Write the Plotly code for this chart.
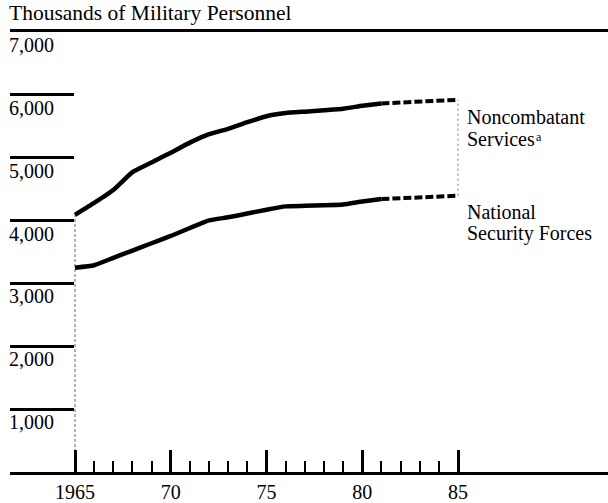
import plotly.graph_objects as go

# values in thousands of military personnel
years = list(range(1965, 1986))
noncombatant = [4090, 4280, 4485, 4770, 4925, 5080, 5240, 5375, 5460, 5565, 5660,
                5710, 5733, 5756, 5780, 5826, 5864, 5878, 5892, 5907, 5921]
national_security = [3250, 3290, 3407, 3523, 3639, 3755, 3882, 4002, 4052, 4112, 4173,
                     4226, 4234, 4242, 4256, 4303, 4342, 4355, 4368, 4381, 4395]
projection_from = 1981  # dashed part of the lines

y_ticks = [1000, 2000, 3000, 4000, 5000, 6000, 7000]
y_tick_labels = ["1,000", "2,000", "3,000", "4,000", "5,000", "6,000", "7,000"]
x_ticks = [1965, 1970, 1975, 1980, 1985]
x_tick_labels = ["1965", "70", "75", "80", "85"]

FONT = "Liberation Serif"
W, H = 608, 503
TOP, BOTTOM = 32, 26.5
Y_MAX = 7000


def split(vals):
    i = years.index(projection_from)
    return (years[:i + 1], vals[:i + 1]), (years[i:], vals[i:])


fig = go.Figure()

# thin dotted guides at start and end years
fig.add_trace(go.Scatter(x=[years[0], years[0]], y=[0, noncombatant[0]], mode="lines",
                         line=dict(color="#666", width=1, dash="3px,2px"), hoverinfo="skip"))
fig.add_trace(go.Scatter(x=[years[-1], years[-1]], y=[national_security[-1], noncombatant[-1]],
                         mode="lines", line=dict(color="#777", width=1, dash="2px,3px"),
                         hoverinfo="skip"))

for series in (noncombatant, national_security):
    (xs, ys), (xd, yd) = split(series)
    fig.add_trace(go.Scatter(x=xs, y=ys, mode="lines",
                             line=dict(color="black", width=4.5, shape="spline", smoothing=0.4)))
    fig.add_trace(go.Scatter(x=xd, y=yd, mode="lines",
                             line=dict(color="black", width=4, dash="8px,3px")))

# pixel helpers for text placement
plot_h = H - TOP - BOTTOM


def y_at(px):
    return (H - BOTTOM - px) / plot_h * Y_MAX


annotations = [
    dict(text="Thousands of Military Personnel", x=0, xref="paper", xanchor="left", xshift=-3,
         y=1, yref="paper", yanchor="middle", yshift=TOP - 13, showarrow=False,
         font=dict(family=FONT, size=21.5, color="black")),
]
for v, lab in zip(y_ticks, y_tick_labels):
    annotations.append(dict(text=lab, x=0, xref="paper", xanchor="left", xshift=-3,
                            y=v, yref="y", yanchor="middle", yshift=-13, showarrow=False,
                            font=dict(family=FONT, size=20, color="black")))

right_labels = [("Noncombatant", 118, 8, 20), ("Services", 140, 8, 20), ("a", 138.5, 77, 12),
                ("National", 214, 8, 20), ("Security Forces", 236, 8, 20)]
for txt, py, dx, size in right_labels:
    annotations.append(dict(text=txt, x=years[-1], xref="x", xanchor="left", xshift=dx,
                            y=y_at(py), yref="y", yanchor="middle", showarrow=False,
                            borderpad=0, font=dict(family=FONT, size=size, color="black")))

px_per_year = (458 - 75) / 20
x_left = 1965 - (75 - 10) / px_per_year
x_right = 1965 + (W - 75) / px_per_year

fig.update_layout(
    width=W, height=H,
    margin=dict(l=10, r=0, t=TOP, b=BOTTOM),
    plot_bgcolor="white", paper_bgcolor="white",
    showlegend=False,
    font=dict(family=FONT, size=21, color="black"),
    annotations=annotations,
    xaxis=dict(range=[x_left, x_right], showgrid=False, zeroline=False,
               showline=True, linewidth=3, linecolor="black", mirror=True,
               tickmode="array", tickvals=x_ticks, ticktext=x_tick_labels,
               ticks="inside", ticklen=22, tickwidth=2.5, tickcolor="black",
               tickfont=dict(family=FONT, size=20, color="black"),
               minor=dict(tickmode="array", tickvals=years, ticks="inside",
                          ticklen=11, tickwidth=2, tickcolor="black")),
    yaxis=dict(range=[0, Y_MAX], showgrid=False, zeroline=False, showline=False,
               tickmode="array", tickvals=y_ticks[:-1], ticks="inside", ticklen=64,
               tickwidth=3, tickcolor="black", showticklabels=False),
)

# page body has a default margin; drop it so the figure sits at the window corner
fig.write_html("out.html", config={"displayModeBar": False},
               post_script="document.body.style.margin='0';")
